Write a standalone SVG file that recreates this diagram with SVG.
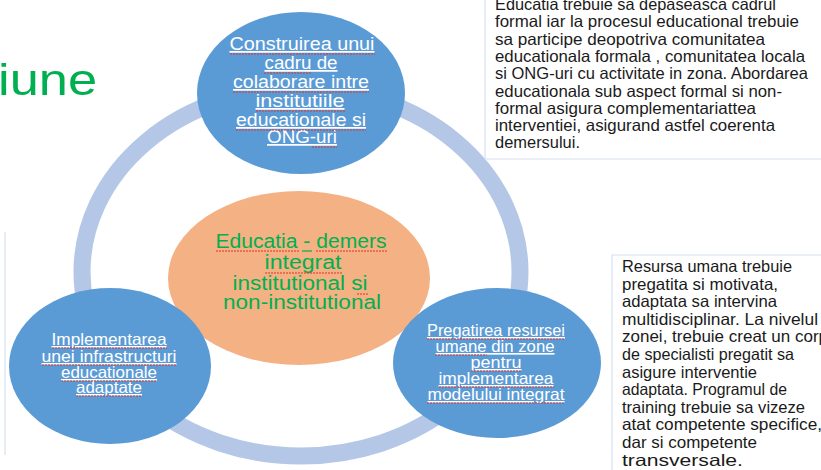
<svg xmlns="http://www.w3.org/2000/svg" width="821" height="470" viewBox="0 0 821 470">
<style>
.bl{fill:#5b9bd5}
.wt{font-family:"Liberation Sans",Arial,sans-serif;fill:#ffffff;text-anchor:middle;text-decoration:underline}
.gt{font-family:"Liberation Sans",Arial,sans-serif;fill:#00b050;text-anchor:middle}
.bt{font-family:"Liberation Sans",Arial,sans-serif;fill:#1a1a1a;font-size:16.5px}
.sq{stroke:#e0302a;stroke-width:1.2;stroke-dasharray:2 1;fill:none}
.bx{stroke:#d6e0ef;stroke-width:1.2;fill:none}
</style>
<rect width="821" height="470" fill="#ffffff"/>
<text x="97" y="95" font-family="Liberation Sans,Arial,sans-serif" font-size="44" fill="#00b050" text-anchor="end" textLength="99" lengthAdjust="spacingAndGlyphs">iune</text>
<g id="connectors">
<ellipse cx="301" cy="272" rx="219" ry="184" fill="none" stroke="#b4c7e7" stroke-width="17"/>
</g>
<g id="box-left"><line class="bx" x1="5" y1="232" x2="5" y2="455"/></g>
<g id="box-top">
<path class="bx" d="M485 0 V159 H821"/>
<g class="bt">
<text x="495" y="10" textLength="281" lengthAdjust="spacingAndGlyphs">Educatia trebuie sa depaseasca cadrul</text>
<text x="495" y="27.3" textLength="304" lengthAdjust="spacingAndGlyphs">formal iar la procesul educational trebuie</text>
<text x="495" y="44.6" textLength="270" lengthAdjust="spacingAndGlyphs">sa participe deopotriva comunitatea</text>
<text x="495" y="61.9" textLength="310" lengthAdjust="spacingAndGlyphs">educationala formala , comunitatea locala</text>
<text x="495" y="79.2" textLength="313" lengthAdjust="spacingAndGlyphs">si ONG-uri cu activitate in zona. Abordarea</text>
<text x="495" y="96.5" textLength="287" lengthAdjust="spacingAndGlyphs">educationala sub aspect formal si non-</text>
<text x="495" y="113.8" textLength="261" lengthAdjust="spacingAndGlyphs">formal asigura complementariattea</text>
<text x="495" y="131.1" textLength="280" lengthAdjust="spacingAndGlyphs">interventiei, asigurand astfel coerenta</text>
<text x="495" y="148.4" textLength="85" lengthAdjust="spacingAndGlyphs">demersului.</text>
</g>
</g>
<g id="box-right">
<path class="bx" d="M612 470 V255 H821"/>
<g class="bt">
<text x="622" y="272" textLength="170" lengthAdjust="spacingAndGlyphs">Resursa umana trebuie</text>
<text x="622" y="289.6" textLength="156" lengthAdjust="spacingAndGlyphs">pregatita si motivata,</text>
<text x="622" y="307.2" textLength="155" lengthAdjust="spacingAndGlyphs">adaptata sa intervina</text>
<text x="622" y="324.8" textLength="196" lengthAdjust="spacingAndGlyphs">multidisciplinar. La nivelul</text>
<text x="622" y="342.4" textLength="206" lengthAdjust="spacingAndGlyphs">zonei, trebuie creat un corp</text>
<text x="622" y="360" textLength="172" lengthAdjust="spacingAndGlyphs">de specialisti pregatit sa</text>
<text x="622" y="377.6" textLength="135" lengthAdjust="spacingAndGlyphs">asigure interventie</text>
<text x="622" y="395.2" textLength="165" lengthAdjust="spacingAndGlyphs">adaptata. Programul de</text>
<text x="622" y="412.8" textLength="183" lengthAdjust="spacingAndGlyphs">training trebuie sa vizeze</text>
<text x="622" y="430.4" textLength="200" lengthAdjust="spacingAndGlyphs">atat competente specifice,</text>
<text x="622" y="448" textLength="135" lengthAdjust="spacingAndGlyphs">dar si competente</text>
<text x="622" y="465.6" textLength="121" lengthAdjust="spacingAndGlyphs">transversale.</text>
</g>
</g>
<g id="node-top">
<ellipse class="bl" cx="301" cy="93" rx="104" ry="81"/>
<g class="wt" font-size="17.5">
<text x="302" y="50" textLength="145" lengthAdjust="spacingAndGlyphs">Construirea unui</text>
<text x="301" y="69" textLength="73" lengthAdjust="spacingAndGlyphs">cadru de</text>
<text x="301" y="88" textLength="136" lengthAdjust="spacingAndGlyphs">colaborare intre</text>
<text x="300" y="107" textLength="89" lengthAdjust="spacingAndGlyphs">institutiile</text>
<text x="301" y="126" textLength="130" lengthAdjust="spacingAndGlyphs">educationale si</text>
<text x="302" y="143" textLength="70" lengthAdjust="spacingAndGlyphs">ONG-uri</text>
</g>
<path class="sq" d="M230 54 H375 M264 73 H312 M233 92 H369 M256 111 H345 M236 130 H366 M312 147 H337"/>
</g>
<g id="node-center">
<ellipse cx="299" cy="278" rx="131" ry="87" fill="#f4b183"/>
<g class="gt" font-size="19.5">
<text x="301" y="248" textLength="171" lengthAdjust="spacingAndGlyphs">Educatia - demers</text>
<text x="303" y="269" textLength="77" lengthAdjust="spacingAndGlyphs">integrat</text>
<text x="300" y="290" textLength="135" lengthAdjust="spacingAndGlyphs">institutional si</text>
<text x="302" y="309" textLength="158" lengthAdjust="spacingAndGlyphs">non-institutional</text>
</g>
<path class="sq" d="M216 251 H300 M316 251 H387 M265 273 H342 M357 294 H368"/>
<path d="M302 251 H312" stroke="#00b050" stroke-width="1.2"/>
</g>
<g id="node-bottom-left">
<ellipse class="bl" cx="110" cy="366" rx="101" ry="78"/>
<g class="wt" font-size="16.5">
<text x="109" y="345" textLength="115" lengthAdjust="spacingAndGlyphs">Implementarea</text>
<text x="109" y="362" textLength="135" lengthAdjust="spacingAndGlyphs">unei infrastructuri</text>
<text x="109" y="378" textLength="96" lengthAdjust="spacingAndGlyphs">educationale</text>
<text x="109" y="393" textLength="66" lengthAdjust="spacingAndGlyphs">adaptate</text>
</g>
<path class="sq" d="M52 348 H167 M42 365 H177 M61 381 H157 M76 396 H142"/>
</g>
<g id="node-bottom-right">
<ellipse class="bl" cx="497" cy="363" rx="104" ry="75"/>
<g class="wt" font-size="16.5">
<text x="496" y="336" textLength="138" lengthAdjust="spacingAndGlyphs">Pregatirea resursei</text>
<text x="495" y="352" textLength="119" lengthAdjust="spacingAndGlyphs">umane din zone</text>
<text x="496" y="368" textLength="51" lengthAdjust="spacingAndGlyphs">pentru</text>
<text x="496" y="384" textLength="115" lengthAdjust="spacingAndGlyphs">implementarea</text>
<text x="496" y="400" textLength="137" lengthAdjust="spacingAndGlyphs">modelului integrat</text>
</g>
<path class="sq" d="M427 339 H565 M435 355 H487 M471 371 H522 M439 387 H554 M427 403 H564"/>
</g>
</svg>
